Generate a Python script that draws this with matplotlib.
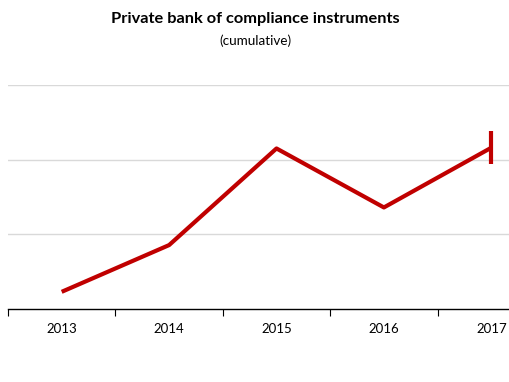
import matplotlib
matplotlib.use('Agg')
import matplotlib.pyplot as plt

# data (arbitrary units, gridlines every 50)
years = ['2013', '2014', '2015', '2016', '2017']
bank = [11.5, 42.8, 107.5, 68.0, 108.0]
err_2017 = 11.2

plt.rcParams['font.family'] = ['Lato', 'DejaVu Sans']

fig = plt.figure(figsize=(5.1, 3.82), dpi=100)
# axes runs past the right edge, like the original
ax = fig.add_axes([8 / 510, (382 - 309) / 382, 537 / 510, (309 - 85) / 382])

red = '#C00000'
x = list(range(len(years)))
ax.plot(x, bank, color=red, lw=3.0, solid_capstyle='butt', zorder=3)
ax.errorbar(x[-1], bank[-1], yerr=err_2017, color=red, elinewidth=3.0,
            capsize=0, fmt='none', zorder=3)

ax.set_xlim(-0.5, 4.5)
ax.set_ylim(0, 150)
ax.set_yticks([50, 100, 150])
ax.yaxis.grid(True, color='#d9d9d9', lw=1.0)
ax.set_axisbelow(True)
ax.tick_params(axis='y', left=False, labelleft=False)

ax.set_xticks([i - 0.5 for i in x] + [4.5])
ax.set_xticklabels([])
ax.set_xticks(x, minor=True)
ax.set_xticklabels(years, minor=True, fontsize=9.5)
ax.tick_params(axis='x', which='major', length=5, width=0.8, direction='out')
ax.tick_params(axis='x', which='minor', length=0, pad=10)

for s in ['top', 'right', 'left']:
    ax.spines[s].set_visible(False)
ax.spines['bottom'].set_linewidth(1.0)

fig.text(0.5, 1 - 19 / 382, 'Private bank of compliance instruments',
         ha='center', va='center', fontsize=11.8, fontweight='bold')
fig.text(0.5, 1 - 41 / 382, '(cumulative)', ha='center', va='center', fontsize=9.7)

plt.savefig('out.png', dpi=100)
plt.close()
